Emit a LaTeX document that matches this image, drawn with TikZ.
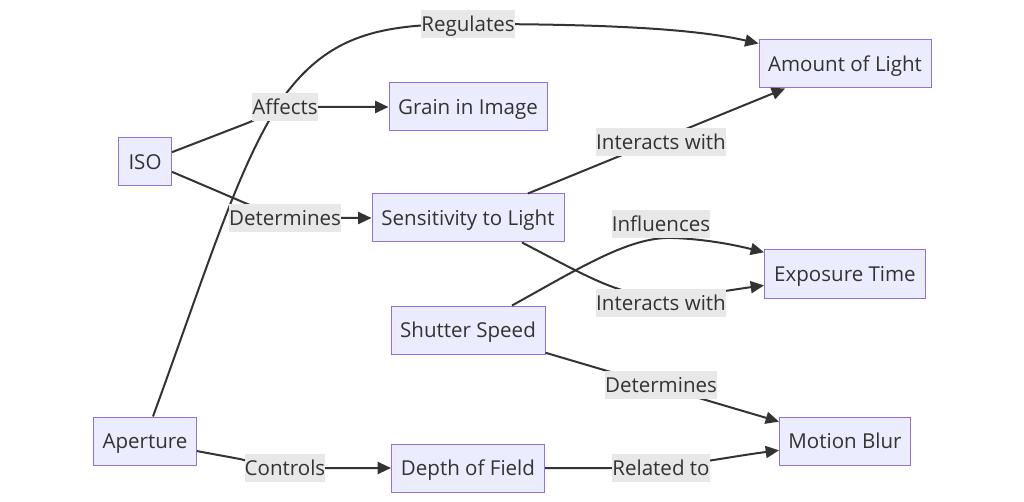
\documentclass[tikz,border=0pt]{standalone}
\usepackage{fontspec}
\setmainfont{Open Sans}
\usetikzlibrary{arrows.meta}

\definecolor{boxfill}{HTML}{ECECFF}
\definecolor{boxline}{HTML}{9370DB}
\definecolor{ink}{HTML}{333333}
\definecolor{tagbg}{HTML}{E8E8E8}

\tikzset{
  concept/.style={draw=boxline, fill=boxfill, line width=0.75pt, minimum height=36pt,
    inner sep=0pt, text height=12pt, text depth=1pt, text=ink,
    font=\fontsize{15.4}{18}\selectfont},
  link/.style={draw=ink, line width=1.5pt, -{Triangle[length=10pt,width=9pt]}},
  tag/.style={fill=tagbg, inner xsep=0pt, inner ysep=0pt, minimum height=21pt,
    text height=12pt, text depth=1pt, text=ink, font=\fontsize{15.4}{18}\selectfont},
}

\begin{document}
\begin{tikzpicture}[x=0.75pt,y=-0.75pt]
          \useasboundingbox[fill=white] (0,0) rectangle (1024,502);

          % left column
          \node[concept, minimum width=39.75pt] (iso) at (145,162) {ISO};
          \node[concept, minimum width=77.25pt] (aperture) at (145,441) {Aperture};

          % middle column
          \node[concept, minimum width=118.5pt] (grain) at (468,107) {Grain in Image};
          \node[concept, minimum width=144pt] (sens) at (468,218) {Sensitivity to Light};
          \node[concept, minimum width=115.5pt] (shutter) at (468,330) {Shutter Speed};
          \node[concept, minimum width=114.75pt] (dof) at (468,468) {Depth of Field};

          % right column
          \node[concept, minimum width=129pt] (light) at (845,64) {Amount of Light};
          \node[concept, minimum width=120.75pt] (expo) at (845,274) {Exposure Time};
          \node[concept, minimum width=98.25pt] (blur) at (845,441) {Motion Blur};

          % connectors
          \draw[link] (iso.20) -- (245,124) .. controls (265,116) and (280,107) .. (305,107) -- (grain.west);
          \draw[link] (iso.-20) -- (245,203) .. controls (265,211) and (280,218) .. (305,218) -- (sens.west);
          \draw[link] ([xshift=6pt]aperture.north) .. controls (210,260) and (240,160) .. (285,95)
            .. controls (330,35) and (380,24) .. (468,24)
            .. controls (620,24) and (700,30) .. ([yshift=-3pt]light.north west);
          \draw[link] (aperture.-11) -- (240,459) .. controls (262,465) and (280,468) .. (310,468) -- (dof.west);
          \draw[link] (sens) -- (light);
          \draw[link] ([xshift=40.5pt]sens.south) .. controls (590,278) and (620,296) .. (661,296)
            .. controls (700,296) and (730,290) .. (expo.188.5);
          \draw[link] ([xshift=33pt]shutter.north) .. controls (580,268) and (630,236) .. (673,238)
            .. controls (705,239) and (735,245) .. (expo.165);
          \draw[link] (shutter) -- (blur);
          \draw[link] (dof.east) -- (620,468) .. controls (680,468) and (720,458) .. (blur.188);

          % edge labels
          \node[tag] (regulates) at (468,24) {Regulates};
          \node[tag] (affects) at (285,107) {Affects};
          \node[tag] (determinesiso) at (285,218) {Determines};
          \node[tag] (controls) at (285,468) {Controls};
          \node[tag] (interactslight) at (661,142) {Interacts with};
          \node[tag] (influences) at (661,224) {Influences};
          \node[tag] (interactsexpo) at (661,303) {Interacts with};
          \node[tag] (determinesblur) at (661,385) {Determines};
          \node[tag] (relatedto) at (661,468) {Related to};
\end{tikzpicture}
\end{document}
